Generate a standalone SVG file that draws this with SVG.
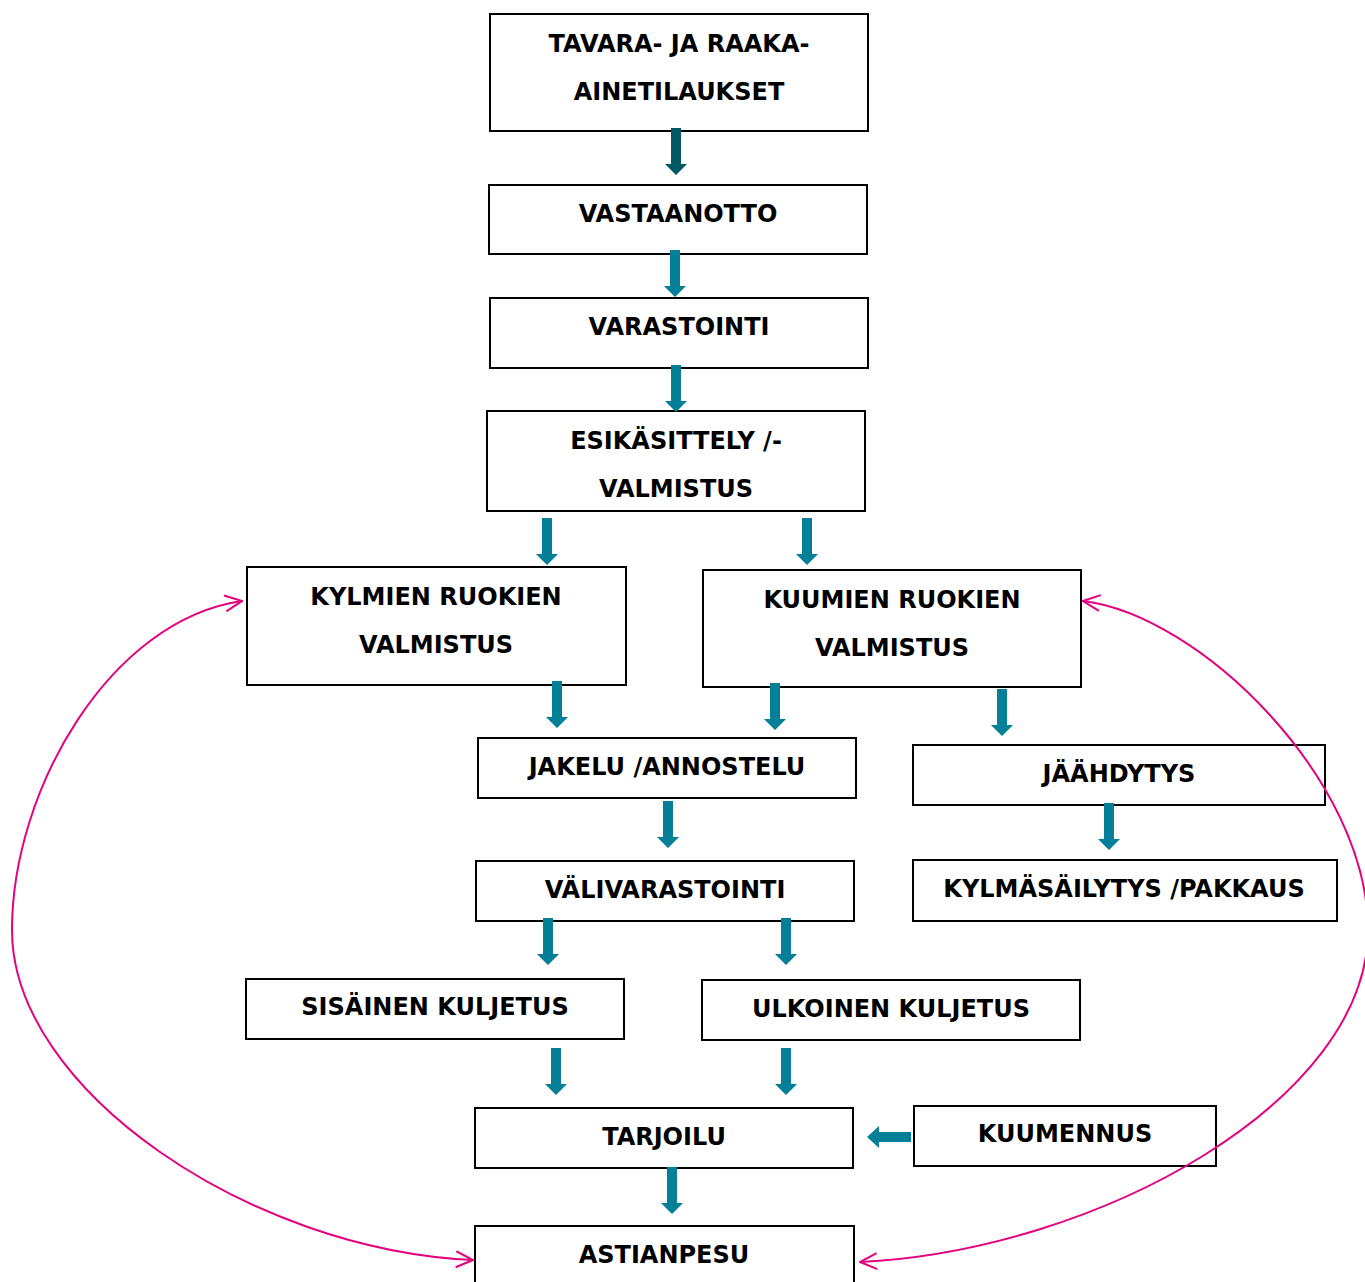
<svg xmlns="http://www.w3.org/2000/svg" width="1365" height="1282" viewBox="0 0 1365 1282">
<style>
.box{fill:#fff;stroke:#000;stroke-width:2}
.t{font-family:"DejaVu Sans",Verdana,sans-serif;font-weight:bold;font-size:24px;fill:#000;text-anchor:middle}
.ar{fill:#047f98}
.ard{fill:#035866}
.loop{fill:none;stroke:#e2047f;stroke-width:2}
</style>
<defs>
<path id="dn" d="M-5,-47 H5 V-11 H11 L0,0 L-11,-11 H-5 Z"/>
<marker id="oa" viewBox="0 0 20 20" refX="19" refY="10" markerWidth="20" markerHeight="20" markerUnits="userSpaceOnUse" orient="auto-start-reverse">
<path d="M2,2 L19,10 L2,18" fill="none" stroke="#e2047f" stroke-width="2"/>
</marker>
</defs>
<rect width="1365" height="1282" fill="#fff"/>
<g id="n1"><rect class="box" x="490" y="14" width="378" height="117"/><text class="t" x="679" y="52">TAVARA- JA RAAKA-</text><text class="t" x="679" y="100">AINETILAUKSET</text></g>
<g id="n2"><rect class="box" x="489" y="185" width="378" height="69"/><text class="t" x="678" y="222">VASTAANOTTO</text></g>
<g id="n3"><rect class="box" x="490" y="298" width="378" height="70"/><text class="t" x="679" y="335">VARASTOINTI</text></g>
<g id="n4"><rect class="box" x="487" y="411" width="378" height="100"/><text class="t" x="676" y="449">ESIKÄSITTELY /-</text><text class="t" x="676" y="497">VALMISTUS</text></g>
<g id="n5"><rect class="box" x="247" y="567" width="379" height="118"/><text class="t" x="436" y="605">KYLMIEN RUOKIEN</text><text class="t" x="436" y="653">VALMISTUS</text></g>
<g id="n6"><rect class="box" x="703" y="570" width="378" height="117"/><text class="t" x="892" y="608">KUUMIEN RUOKIEN</text><text class="t" x="892" y="656">VALMISTUS</text></g>
<g id="n7"><rect class="box" x="478" y="738" width="378" height="60"/><text class="t" x="667" y="775">JAKELU /ANNOSTELU</text></g>
<g id="n8"><rect class="box" x="913" y="745" width="412" height="60"/><text class="t" x="1119" y="782">JÄÄHDYTYS</text></g>
<g id="n9"><rect class="box" x="476" y="861" width="378" height="60"/><text class="t" x="665" y="898">VÄLIVARASTOINTI</text></g>
<g id="n10"><rect class="box" x="913" y="860" width="424" height="61"/><text class="t" x="1124" y="897">KYLMÄSÄILYTYS /PAKKAUS</text></g>
<g id="n11"><rect class="box" x="246" y="979" width="378" height="60"/><text class="t" x="435" y="1015">SISÄINEN KULJETUS</text></g>
<g id="n12"><rect class="box" x="702" y="980" width="378" height="60"/><text class="t" x="891" y="1017">ULKOINEN KULJETUS</text></g>
<g id="n13"><rect class="box" x="475" y="1108" width="378" height="60"/><text class="t" x="664" y="1145">TARJOILU</text></g>
<g id="n14"><rect class="box" x="914" y="1106" width="302" height="60"/><text class="t" x="1065" y="1142">KUUMENNUS</text></g>
<g id="n15"><rect class="box" x="475" y="1226" width="379" height="80"/><text class="t" x="664" y="1263">ASTIANPESU</text></g>
<g id="connectors">
<use href="#dn" class="ard" x="676" y="175"/>
<use href="#dn" class="ar" x="675" y="297"/>
<use href="#dn" class="ar" x="676" y="412"/>
<use href="#dn" class="ar" x="547" y="565"/>
<use href="#dn" class="ar" x="807" y="565"/>
<use href="#dn" class="ar" x="557" y="728"/>
<use href="#dn" class="ar" x="775" y="730"/>
<use href="#dn" class="ar" x="1002" y="736"/>
<use href="#dn" class="ar" x="668" y="848"/>
<use href="#dn" class="ar" x="1109" y="850"/>
<use href="#dn" class="ar" x="548" y="965"/>
<use href="#dn" class="ar" x="786" y="965"/>
<use href="#dn" class="ar" x="556" y="1095"/>
<use href="#dn" class="ar" x="786" y="1095"/>
<use href="#dn" class="ar" x="672" y="1214"/>
<path class="ar" d="M911,1132 V1142 H879 V1148 L867,1137 L879,1126 V1132 Z"/>
<path class="loop" d="M242,601 C110,620 12,790 12,930 C12,1090 250,1250 473,1260" marker-start="url(#oa)" marker-end="url(#oa)"/>
<path class="loop" d="M1083,601 C1200,615 1368,780 1368,930 C1368,1100 1100,1250 860,1262" marker-start="url(#oa)" marker-end="url(#oa)"/>
</g>
</svg>
